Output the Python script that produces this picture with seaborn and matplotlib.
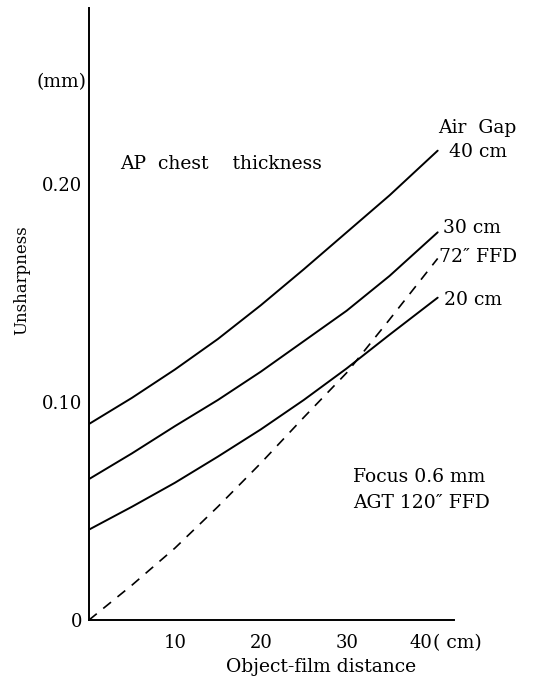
import matplotlib
matplotlib.use("Agg")
import matplotlib.pyplot as plt
import matplotlib.transforms as mtransforms
import seaborn as sns
import pandas as pd

# Object-film distance (cm)
distance = [0, 5, 10, 15, 20, 25, 30, 35, 40.6]
# Unsharpness (mm) for each air gap, and for the 72" FFD reference
gap_40 = [0.090, 0.102, 0.115, 0.129, 0.1445, 0.161, 0.178, 0.195, 0.2155]
gap_30 = [0.0647, 0.0765, 0.089, 0.101, 0.114, 0.128, 0.142, 0.158, 0.178]
gap_20 = [0.0415, 0.052, 0.063, 0.075, 0.0875, 0.101, 0.1155, 0.131, 0.148]
ffd_72 = [0.0, 0.016, 0.033, 0.052, 0.072, 0.093, 0.1135, 0.138, 0.166]

x_ticks = [10, 20, 30, 40]
y_ticks = [0, 0.10, 0.20]
y_tick_labels = ["0", "0.10", "0.20"]

sns.set_style("white")
plt.rcParams["font.family"] = ["DejaVu Serif"]
plt.rcParams["text.color"] = "black"
plt.rcParams["axes.labelcolor"] = "black"

fig = plt.figure(figsize=(5.37, 6.78), dpi=100)
ax = fig.add_axes([89 / 537, 1 - 620 / 678, (454 - 89) / 537, (620 - 8) / 678])

frames = []
for name, vals in [("40 cm", gap_40), ("30 cm", gap_30), ("20 cm", gap_20)]:
    frames.append(pd.DataFrame({"distance": distance, "unsharpness": vals, "curve": name}))
solid = pd.concat(frames, ignore_index=True)
sns.lineplot(data=solid, x="distance", y="unsharpness", units="curve",
             estimator=None, color="black", lw=1.4, ax=ax)

ffd = pd.DataFrame({"distance": distance, "unsharpness": ffd_72})
sns.lineplot(data=ffd, x="distance", y="unsharpness", color="black", lw=1.2, ax=ax)
ax.lines[-1].set_dashes([6, 5])

ax.set_xlim(0, 42.5)
ax.set_ylim(0, 0.281)
sns.despine(ax=ax)
for s in ("left", "bottom"):
    ax.spines[s].set_linewidth(1.4)
    ax.spines[s].set_color("black")

ax.set_xticks(x_ticks)
ax.set_xticklabels([str(t) for t in x_ticks], fontsize=13)
ax.set_yticks(y_ticks)
ax.set_yticklabels(y_tick_labels, fontsize=13)
ax.set_yticks([0.05, 0.15, 0.25], minor=True)
ax.tick_params(axis="x", direction="inout", length=4, width=1, pad=8, colors="black")
ax.tick_params(axis="y", direction="out", length=3, width=1, pad=2, colors="black")
ax.tick_params(axis="y", which="minor", direction="out", length=2, width=1, colors="black")

# the last x label sits a little left so that the unit can follow it
shift = mtransforms.ScaledTranslation(-12 / 100, 0, fig.dpi_scale_trans)
last = ax.get_xticklabels()[-1]
last.set_transform(last.get_transform() + shift)

ax.set_xlabel("Object-film distance", fontsize=13.5)
ax.xaxis.set_label_coords(0.635, -0.062)
ax.set_ylabel("Unsharpness", fontsize=12)
ax.yaxis.set_label_coords(-0.16, 0.555)

ax.annotate("( cm)", xy=(40, 0), xycoords="data", xytext=(0, -16.5),
            textcoords="offset points", fontsize=13.5, ha="left", va="center",
            annotation_clip=False)
ax.text(-0.25, 0.247, "(mm)", fontsize=13.5, ha="right", va="center")

ax.text(3.6, 0.2096, "AP  chest    thickness", fontsize=13.5, va="center")
ax.text(40.6, 0.226, "Air  Gap", fontsize=13.5, va="center", clip_on=False)
ax.text(41.9, 0.2147, "40 cm", fontsize=13.5, va="center", clip_on=False)
ax.text(41.2, 0.180, "30 cm", fontsize=13.5, va="center", clip_on=False)
ax.text(40.8, 0.1665, "72\u2033 FFD", fontsize=13.5, va="center", clip_on=False)
ax.text(41.3, 0.1468, "20 cm", fontsize=13.5, va="center", clip_on=False)
ax.text(30.7, 0.0655, "Focus 0.6 mm", fontsize=13.5, va="center", clip_on=False)
ax.text(30.7, 0.0537, "AGT 120\u2033 FFD", fontsize=13.5, va="center", clip_on=False)

fig.savefig("out.png", dpi=100)
